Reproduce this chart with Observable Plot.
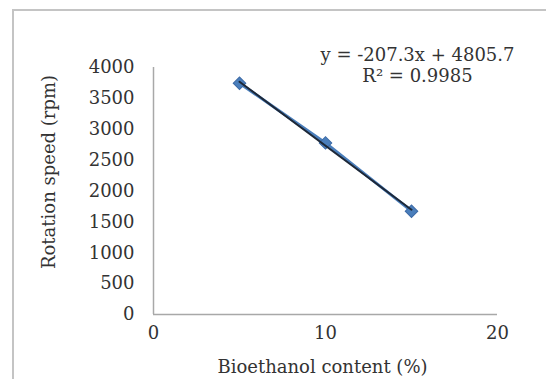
<!DOCTYPE html>
<html>
<head>
<meta charset="utf-8">
<script src="https://cdn.jsdelivr.net/npm/d3@7"></script>
<script src="https://cdn.jsdelivr.net/npm/@observablehq/plot@0.6"></script>
<style>
  html, body { margin: 0; padding: 0; background: #fff; overflow: hidden; }
  #wrap { position: relative; width: 546px; height: 379px; }
  #border { position: absolute; left: 12px; top: 9px; width: 600px; height: 420px;
            border-left: 2px solid #c4c4c4; border-top: 2px solid #c4c4c4; }
  #chart { position: absolute; left: 0; top: 0; }
</style>
</head>
<body>
<div id="wrap"><div id="border"></div><div id="chart"></div></div>
<script>
// Data
const bioethanol = [5, 10, 15];          // Bioethanol content (%)
const rotation = [3746, 2779, 1673];      // Rotation speed (rpm)
const xTicks = [0, 10, 20];
const yTicks = [0, 500, 1000, 1500, 2000, 2500, 3000, 3500, 4000];
const xTitle = "Bioethanol content (%)";
const yTitle = "Rotation speed (rpm)";
const equationText = ["y = -207.3x + 4805.7", "R² = 0.9985"];

const data = bioethanol.map((x, i) => ({x, y: rotation[i]}));
const font = "DejaVu Serif, Liberation Serif, serif";

const chart = Plot.plot({
  width: 546,
  height: 379,
  marginLeft: 153,
  marginRight: 49,
  marginTop: 67,
  marginBottom: 65,
  style: {fontFamily: font, fontSize: "18px", color: "#333", background: "transparent"},
  x: {domain: [0, 20], ticks: xTicks, tickFormat: d => String(d), tickSize: 0, tickPadding: 12, label: null},
  y: {domain: [0, 4000], ticks: yTicks, tickFormat: d => String(d), tickSize: 0, tickPadding: 19, label: null},
  marks: [
    Plot.ruleY([0], {stroke: "#a8a8a8", strokeWidth: 1.5}),
    Plot.ruleX([0], {stroke: "#a8a8a8", strokeWidth: 1.5}),
    Plot.line(data, {x: "x", y: "y", stroke: "#4a7ebb", strokeWidth: 3}),
    Plot.dot(data, {x: "x", y: "y", symbol: "square", rotate: 45, r: 5, fill: "#4a7ebb", stroke: "#3c6aa6", strokeWidth: 1}),
    Plot.linearRegressionY(data, {x: "x", y: "y", stroke: "#1d2838", strokeWidth: 2, ci: 0}),
    Plot.text([equationText.join("\n")], {frameAnchor: "top-right", textAnchor: "middle", lineAnchor: "middle",
      lineHeight: 1.17, dx: -80, dy: -3, fill: "#333", fontSize: 18}),
    Plot.text([yTitle], {frameAnchor: "left", rotate: -90, textAnchor: "middle", lineAnchor: "middle",
      dx: -104, dy: -19, fill: "#333", fontSize: 18}),
    Plot.text([xTitle], {frameAnchor: "bottom", textAnchor: "middle", lineAnchor: "middle",
      dx: -3, dy: 53, fill: "#333", fontSize: 18})
  ]
});
document.getElementById("chart").appendChild(chart);
</script>
</body>
</html>
